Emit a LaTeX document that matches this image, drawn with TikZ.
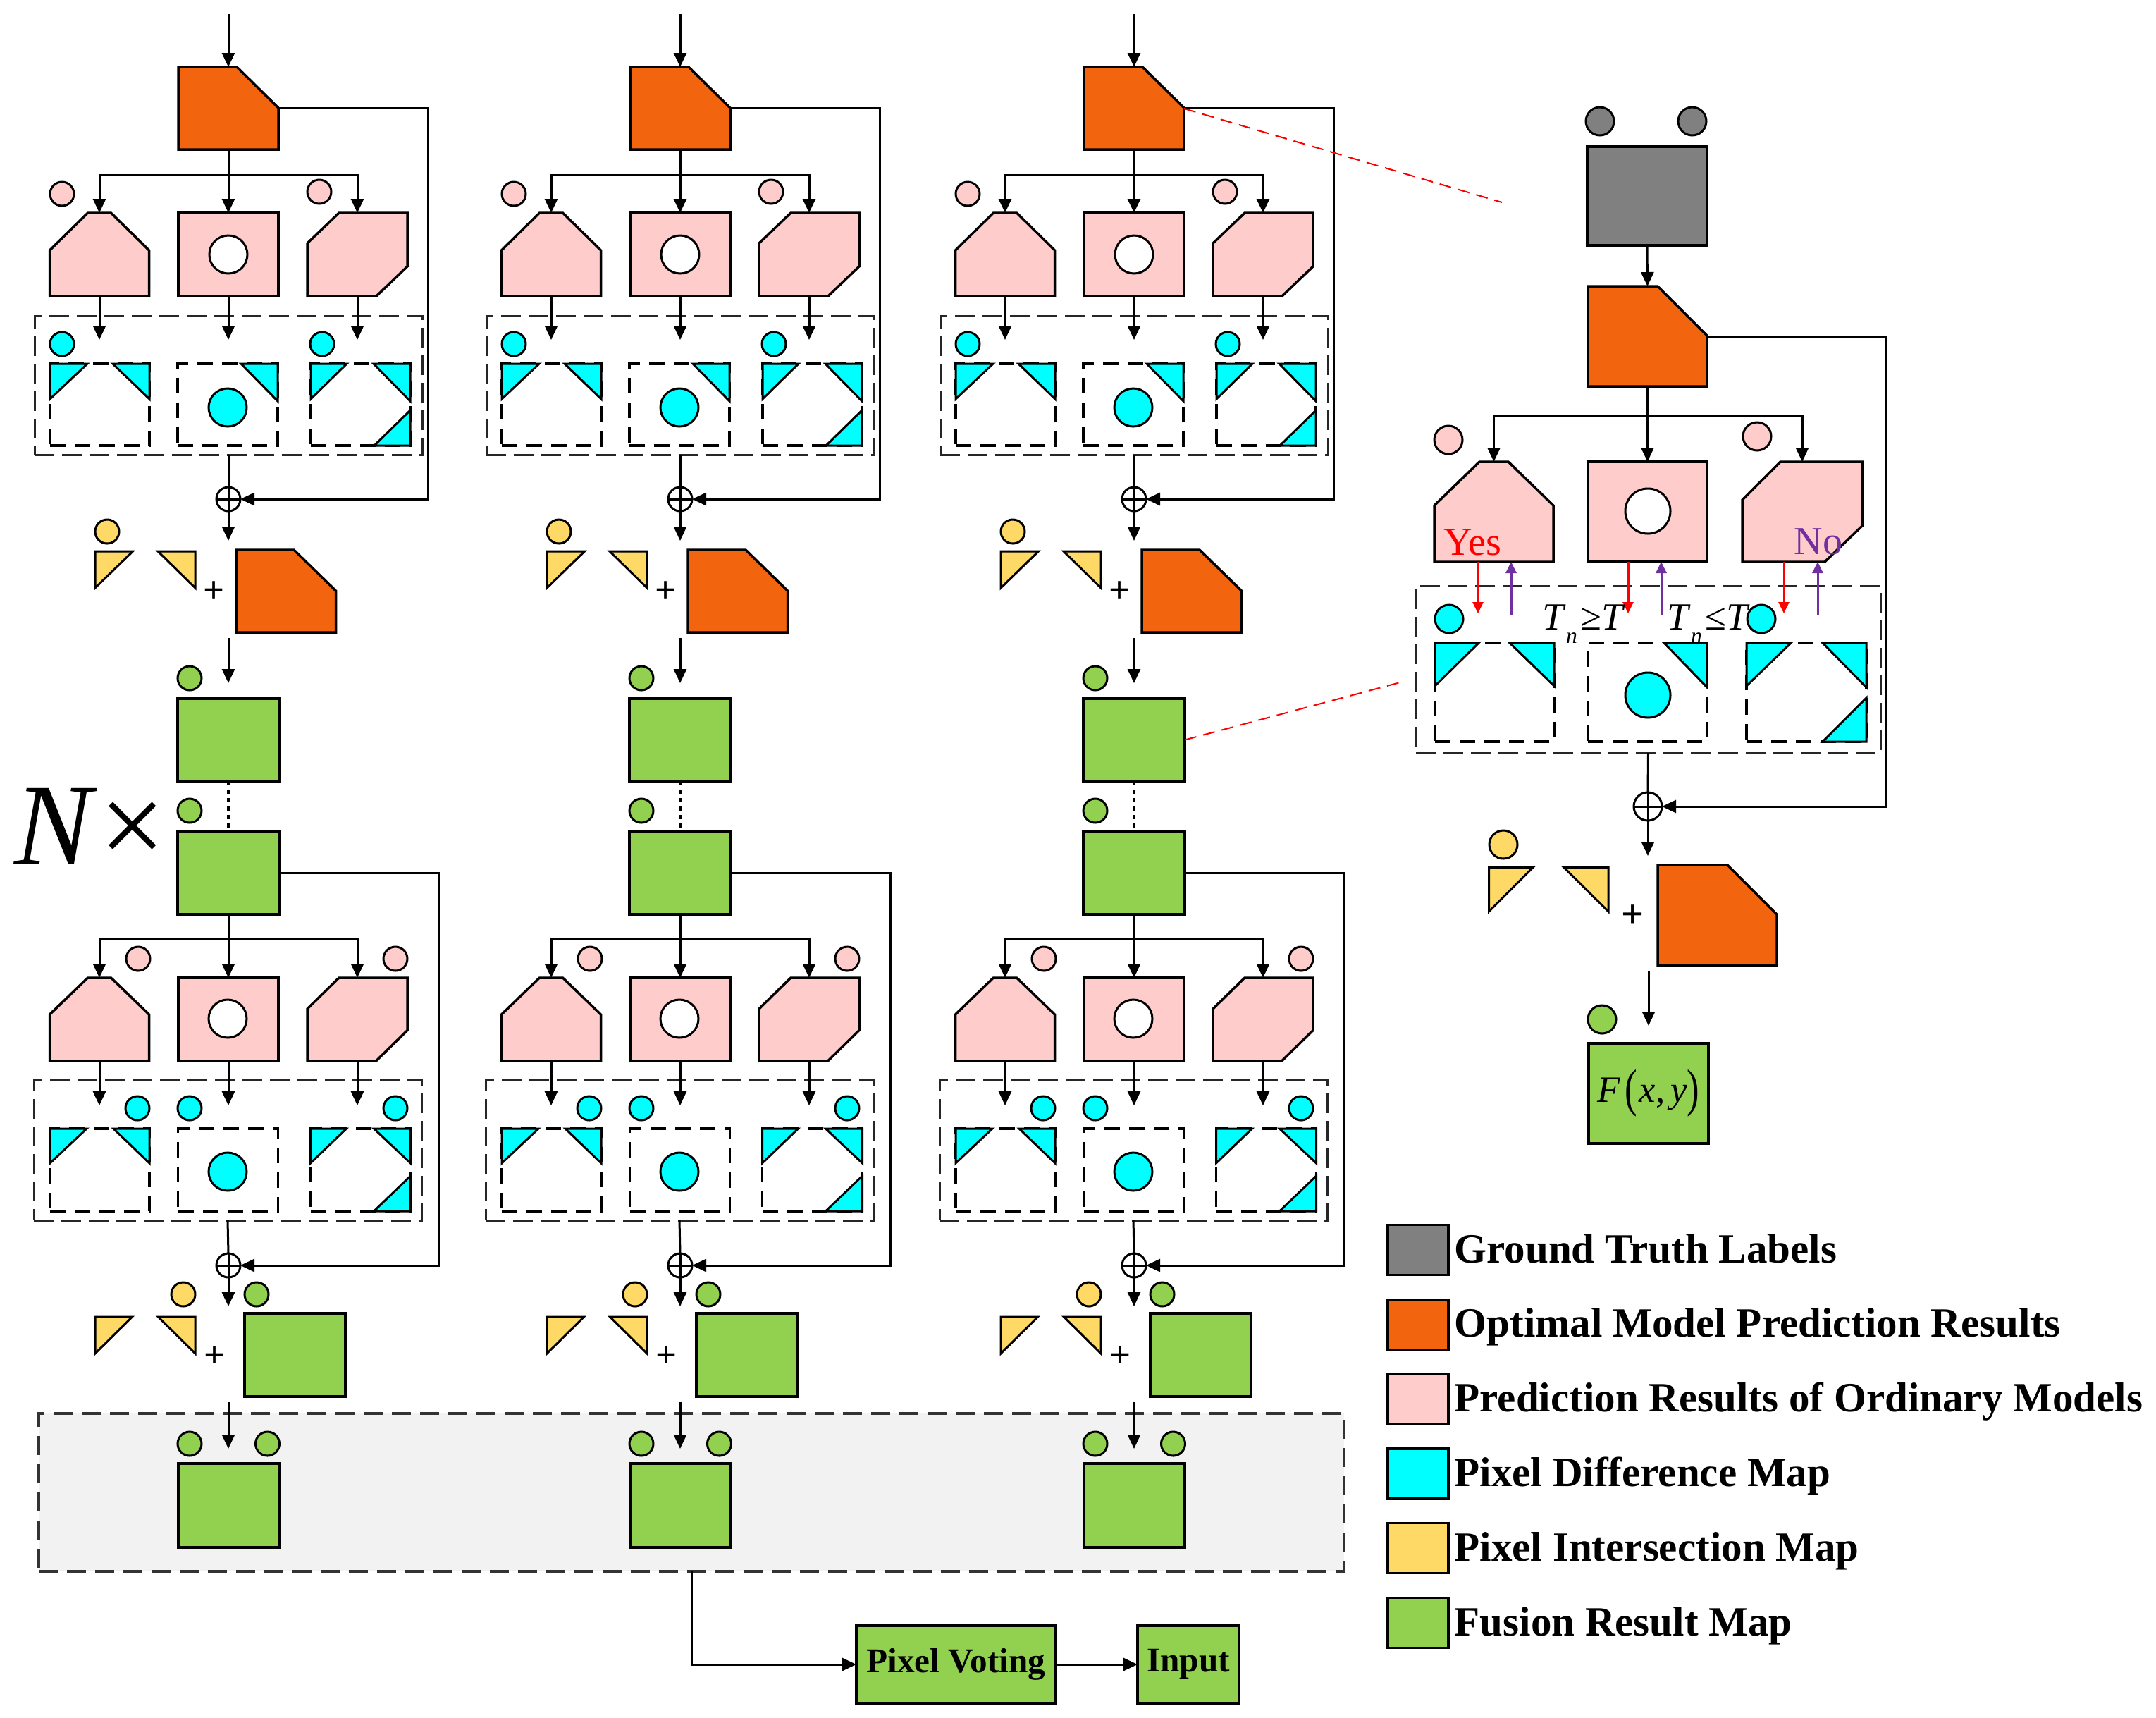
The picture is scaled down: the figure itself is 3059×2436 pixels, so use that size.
\documentclass[tikz,border=0pt]{standalone}
\usepackage{fontspec}
\setmainfont{Liberation Serif}
\usepackage{graphicx}
\usetikzlibrary{arrows.meta,calc}
\definecolor{orng}{RGB}{243,100,14}
\definecolor{pnk}{RGB}{255,204,204}
\definecolor{cyn}{RGB}{0,255,255}
\definecolor{ylw}{RGB}{255,217,102}
\definecolor{grn}{RGB}{146,208,80}
\definecolor{gtgray}{RGB}{128,128,128}
\definecolor{regfill}{RGB}{242,242,242}
\definecolor{purp}{RGB}{112,48,160}
\newcommand\chamNE[4]{\filldraw[shp,fill=#4] (#1.south west) -- (#1.north west) -- ([xshift=-#2]#1.north east) -- ([yshift=-#3]#1.north east) -- (#1.south east) -- cycle;}
\newcommand\chamTT[4]{\filldraw[shp,fill=#4] (#1.south west) -- ([yshift=-#3]#1.north west) -- ([xshift=#2]#1.north west) -- ([xshift=-#2]#1.north east) -- ([yshift=-#3]#1.north east) -- (#1.south east) -- cycle;}
\newcommand\chamTLBR[6]{\filldraw[shp,fill=#6] (#1.south west) -- ([yshift=-#3]#1.north west) -- ([xshift=#2]#1.north west) -- (#1.north east) -- ([yshift=#5]#1.south east) -- ([xshift=-#4]#1.south east) -- cycle;}
\newcommand\triTL[4]{\filldraw[tri,fill=#4] (#1.north west) -- ([xshift=#2]#1.north west) -- ([yshift=-#3]#1.north west) -- cycle;}
\newcommand\triTR[4]{\filldraw[tri,fill=#4] (#1.north east) -- ([xshift=-#2]#1.north east) -- ([yshift=-#3]#1.north east) -- cycle;}
\newcommand\triBR[4]{\filldraw[tri,fill=#4] (#1.south east) -- ([xshift=-#2]#1.south east) -- ([yshift=#3]#1.south east) -- cycle;}
\tikzset{
  shp/.style={draw=black, line width=0.35mm, line join=miter},
  tri/.style={draw=black, line width=0.3mm, line join=miter},
  ghost/.style={rectangle, inner sep=0pt, outer sep=0pt},
  box/.style={ghost, shp},
  wh/.style 2 args={minimum width=#1*0.1mm, minimum height=#2*0.1mm},
  dbox/.style={ghost, draw=black!85, line width=0.3mm, dash pattern=on 2.8mm off 1.1mm},
  ibox/.style={ghost, draw=black, line width=0.35mm, dash pattern=on 2.2mm off 1.3mm},
  dot/.style={circle, draw=black, line width=0.3mm, inner sep=0pt, outer sep=0pt, minimum size=3.4mm},
  bdot/.style={dot, minimum size=4mm},
  oplus/.style={circle, draw=black, line width=0.3mm, minimum size=3.4mm, inner sep=0pt, outer sep=0pt,
    path picture={\draw[line width=0.3mm] (path picture bounding box.north) -- (path picture bounding box.south)
      (path picture bounding box.west) -- (path picture bounding box.east);}},
  ln/.style={line width=0.3mm},
  arr/.style={ln, -{Triangle[length=2mm, width=1.8mm]}},
  redarr/.style={line width=0.3mm, draw=red, -{Triangle[length=1.6mm, width=1.5mm]}},
  purarr/.style={line width=0.3mm, draw=purp, -{Triangle[length=1.6mm, width=1.5mm]}},
  reddash/.style={draw=red, line width=0.2mm, dash pattern=on 1.7mm off 1mm},
  dotln/.style={line width=0.35mm, dash pattern=on 0.6mm off 0.6mm},
  plus/.style={inner sep=0pt, font=\fontsize{15}{15}\selectfont\bfseries},
  tfont/.style={anchor=base west, inner sep=0pt, font=\fontsize{15.5}{18}\selectfont},
}
\newcommand\subn{\raisebox{-0.35em}{\fontsize{9}{10}\selectfont\textit{n}}\hspace{0.08em}}
\begin{document}
\begin{tikzpicture}[x=0.1mm,y=-0.1mm]
\useasboundingbox (0,0) rectangle (3059,2436);
% grey voting region
\node[ghost, fill=regfill, draw=black!80, line width=0.4mm, dash pattern=on 2.7mm off 1.3mm, wh={1852}{224}] (reg) at (981,2117) {};
\foreach \i/\dx in {1/0,2/641,3/1285}{
\begin{scope}[shift={(\dx,0)}]
  \coordinate (in\i) at (324,20);
  \node[ghost, wh={142}{117}] (oa\i) at (324,153.5) {};
  \chamNE{oa\i}{5.9mm}{5.8mm}{orng}
  \draw[arr] (in\i) -- (oa\i.north);
  % ordinary models, first block
  \node[ghost, wh={141}{118}] (pl\i) at (141,361) {};
  \chamTT{pl\i}{5.4mm}{5.3mm}{pnk}
  \node[box, fill=pnk, wh={142}{118}] (pm\i) at (324,361) {};
  \node[dot, fill=white, minimum size=5.4mm] (wc\i) at (324,361) {};
  \node[ghost, wh={142}{118}] (pr\i) at (507,361) {};
  \chamTLBR{pr\i}{4.5mm}{4.3mm}{4.4mm}{4.2mm}{pnk}
  \node[dot, fill=pnk] (pda\i) at (88,275) {};
  \node[dot, fill=pnk] (pdb\i) at (453,272) {};
  \draw[arr] (oa\i.south) -- (pm\i.north);
  \draw[arr] (oa\i.south) -- ++(0,36) -| (pl\i.north);
  \draw[arr] (oa\i.south) -- ++(0,36) -| (pr\i.north);
  % difference maps
  \node[dbox, wh={550}{197}] (da\i) at (324,546.5) {};
  \draw[arr] (pl\i.south) -- ++(0,62);
  \draw[arr] (pm\i.south) -- ++(0,62);
  \draw[arr] (pr\i.south) -- ++(0,62);
  \node[dot, fill=cyn] (cda\i) at (88,488) {};
  \node[dot, fill=cyn] (cdb\i) at (457,488) {};
  \node[ibox, wh={141}{116}] (ia\i) at (141.5,574) {};
  \node[ibox, wh={142}{116}] (ib\i) at (323,574) {};
  \node[ibox, wh={141}{116}] (ic\i) at (511.5,574) {};
  \triTL{ia\i}{5.3mm}{5mm}{cyn}
  \triTR{ia\i}{5.2mm}{5mm}{cyn}
  \triTR{ib\i}{5.2mm}{5.3mm}{cyn}
  \node[dot, fill=cyn, minimum size=5.4mm] (cca\i) at (323,578) {};
  \triTL{ic\i}{5.1mm}{5mm}{cyn}
  \triTR{ic\i}{5.2mm}{5.3mm}{cyn}
  \triBR{ic\i}{5.1mm}{5mm}{cyn}
  % first fusion
  \node[oplus] (pa\i) at (324,708) {};
  \draw[ln] (da\i.south) -- (pa\i.north);
  \draw[arr] (oa\i.east) -- ++(212,0) |- (pa\i.east);
  \draw[arr] (pa\i.south) -- ++(0,42);
  \node[dot, fill=ylw] (yda\i) at (152,754) {};
  \filldraw[tri, fill=ylw] (135,782) -- (188.5,782) -- (135,834) -- cycle;
  \filldraw[tri, fill=ylw] (224,782) -- (277,782) -- (277,834) -- cycle;
  \node[plus] (plusa\i) at (304,840) {+};
  \node[ghost, wh={141.5}{117}] (ob\i) at (405.75,838.5) {};
  \chamNE{ob\i}{5.95mm}{5.8mm}{orng}
  \coordinate (sa\i) at (324,905);
  \coordinate (ea\i) at (324,969);
  \draw[arr] (sa\i) -- (ea\i);
  \node[dot, fill=grn] (gda\i) at (269,962) {};
  \node[box, fill=grn, wh={144}{117}] (ga\i) at (324,1049.5) {};
  \node[dot, fill=grn] (gdb\i) at (269,1150) {};
  \node[box, fill=grn, wh={144}{117}] (gb\i) at (324,1238.5) {};
  \draw[dotln] (ga\i.south) -- (gb\i.north);
  % ordinary models, second block
  \node[ghost, wh={141}{118}] (ql\i) at (141,1446) {};
  \chamTT{ql\i}{5.4mm}{5.2mm}{pnk}
  \node[box, fill=pnk, wh={142}{118}] (qm\i) at (324,1446) {};
  \node[dot, fill=white, minimum size=5.4mm] (wd\i) at (323,1445) {};
  \node[ghost, wh={142}{118}] (qr\i) at (507,1446) {};
  \chamTLBR{qr\i}{4.5mm}{4.4mm}{4.45mm}{4.35mm}{pnk}
  \node[dot, fill=pnk] (pdc\i) at (196,1360) {};
  \node[dot, fill=pnk] (pdd\i) at (561,1360) {};
  \draw[arr] (gb\i.south) -- (qm\i.north);
  \draw[arr] (gb\i.south) -- ++(0,35) -| (ql\i.north);
  \draw[arr] (gb\i.south) -- ++(0,35) -| (qr\i.north);
  \node[dbox, wh={550}{199}] (db\i) at (323,1631.5) {};
  \draw[arr] (ql\i.south) -- ++(0,63);
  \draw[arr] (qm\i.south) -- ++(0,63);
  \draw[arr] (qr\i.south) -- ++(0,63);
  \node[dot, fill=cyn] (cdc\i) at (195,1572) {};
  \node[dot, fill=cyn] (cdd\i) at (269,1572) {};
  \node[dot, fill=cyn] (cde\i) at (561,1572) {};
  \node[ibox, wh={141}{117}] (id\i) at (141.5,1659.5) {};
  \node[ibox, wh={142}{117}] (ie\i) at (323.5,1659.5) {};
  \node[ibox, wh={142}{117}] (if\i) at (511.5,1659.5) {};
  \triTL{id\i}{5.2mm}{4.9mm}{cyn}
  \triTR{id\i}{5.1mm}{4.9mm}{cyn}
  \node[dot, fill=cyn, minimum size=5.4mm] (ccb\i) at (323,1662) {};
  \triTL{if\i}{5.1mm}{4.9mm}{cyn}
  \triTR{if\i}{5.2mm}{4.9mm}{cyn}
  \triBR{if\i}{5.2mm}{5mm}{cyn}
  % second fusion
  \node[oplus] (pb\i) at (324,1795) {};
  \draw[ln] (db\i.south) -- (pb\i.north);
  \draw[arr] (gb\i.east) -- ++(226,0) |- (pb\i.east);
  \draw[arr] (pb\i.south) -- ++(0,41);
  \node[dot, fill=ylw] (ydb\i) at (260,1836) {};
  \node[dot, fill=grn] (gdc\i) at (364,1836) {};
  \filldraw[tri, fill=ylw] (135,1868) -- (187.5,1868) -- (135,1920) -- cycle;
  \filldraw[tri, fill=ylw] (224.5,1868) -- (277,1868) -- (277,1920) -- cycle;
  \node[plus] (plusb\i) at (305,1925) {+};
  \node[box, fill=grn, wh={143}{118}] (gc\i) at (418.5,1922) {};
  \coordinate (sb\i) at (324,1989);
  \coordinate (eb\i) at (324,2055);
  \draw[arr] (sb\i) -- (eb\i);
  \node[dot, fill=grn] (gdd\i) at (269,2048) {};
  \node[dot, fill=grn] (gde\i) at (379.5,2048) {};
  \node[box, fill=grn, wh={143}{119}] (gfin\i) at (324.5,2135.5) {};
\end{scope}
}
% N x
\node[anchor=base west, inner sep=0pt, font=\fontsize{47}{50}\selectfont] (nx) at (20,1226) {\textit{N}\hspace{0.02em}×};
% bottom
\node[box, fill=grn, wh={283}{110}, font=\fontsize{14}{16}\selectfont\bfseries] (pv) at (1356.5,2361) {Pixel Voting};
\node[box, fill=grn, wh={144}{110}, font=\fontsize{14}{16}\selectfont\bfseries] (inp) at (1686,2361) {Input};
\draw[arr] (reg.south) |- (pv.west);
\draw[arr] (pv.east) -- (inp.west);
% right panel
\node[bdot, fill=gtgray] (gta) at (2270,172) {};
\node[bdot, fill=gtgray] (gtb) at (2401,172) {};
\node[box, fill=gtgray, wh={170}{140}] (gt) at (2337,278) {};
\node[ghost, wh={169}{142}] (ra) at (2337.5,477) {};
\chamNE{ra}{7mm}{7mm}{orng}
\draw[arr] (gt.south) -- (ra.north);
\node[ghost, wh={169}{142}] (rpl) at (2119.5,726) {};
\chamTT{rpl}{6.4mm}{6.2mm}{pnk}
\node[box, fill=pnk, wh={169}{142}] (rpm) at (2337.5,726) {};
\node[dot, fill=white, minimum size=6.4mm] (rwc) at (2338,725) {};
\node[ghost, wh={170}{142}] (rpr) at (2557,726) {};
\chamTLBR{rpr}{5.4mm}{5.4mm}{5.3mm}{5.1mm}{pnk}
\node[bdot, fill=pnk] (rpda) at (2055,624) {};
\node[bdot, fill=pnk] (rpdb) at (2493,619) {};
\draw[arr] (ra.south) -- (rpm.north);
\draw[arr] (ra.south) -- ++(0,41) -| (rpl.north);
\draw[arr] (ra.south) -- ++(0,41) -| (rpr.north);
\node[anchor=base west, inner sep=0pt, text=red, font=\fontsize{16}{18}\selectfont] (yes) at (2048,787) {Yes};
\node[anchor=base west, inner sep=0pt, text=purp, font=\fontsize{16}{18}\selectfont] (no) at (2545,786) {No};
\node[dbox, wh={659}{237}] (rd) at (2338.5,949.5) {};
\draw[redarr] ([xshift=-2.25mm]rpl.south) -- ++(0,73);
\draw[purarr] ([xshift=2.45mm,yshift=-7.6mm]rpl.south) -- ([xshift=2.45mm]rpl.south);
\draw[redarr] ([xshift=-2.75mm]rpm.south) -- ++(0,73);
\draw[purarr] ([xshift=1.95mm,yshift=-7.6mm]rpm.south) -- ([xshift=1.95mm]rpm.south);
\draw[redarr] ([xshift=-2.6mm]rpr.south) -- ++(0,73);
\draw[purarr] ([xshift=2.2mm,yshift=-7.6mm]rpr.south) -- ([xshift=2.2mm]rpr.south);
\node[bdot, fill=cyn] (rcda) at (2056,878) {};
\node[bdot, fill=cyn] (rcdb) at (2499,878) {};
\node[tfont] (tge) at (2188,893) {\textit{T}\subn≥\textit{T}};
\node[tfont] (tle) at (2365,893) {\textit{T}\subn≤\textit{T}};
\node[ibox, wh={169}{140}] (ria) at (2120.5,982) {};
\node[ibox, wh={169}{140}] (rib) at (2337.5,982) {};
\node[ibox, wh={170}{140}] (ric) at (2563,982) {};
\triTL{ria}{6.2mm}{6.1mm}{cyn}
\triTR{ria}{6.3mm}{6.1mm}{cyn}
\triTR{rib}{6.1mm}{6.3mm}{cyn}
\node[dot, fill=cyn, minimum size=6.4mm] (rcc) at (2338,986) {};
\triTL{ric}{6.3mm}{6.1mm}{cyn}
\triTR{ric}{6.2mm}{6.3mm}{cyn}
\triBR{ric}{6.2mm}{6.2mm}{cyn}
\node[oplus, minimum size=4mm] (rp) at (2338,1144) {};
\draw[ln] (rd.south) -- (rp.north);
\draw[arr] (ra.east) -- ++(254,0) |- (rp.east);
\draw[arr] (rp.south) -- ++(0,50);
\node[bdot, fill=ylw] (ryd) at (2133,1198) {};
\filldraw[tri, fill=ylw] (2112.5,1230.5) -- (2175,1230.5) -- (2112.5,1293) -- cycle;
\filldraw[tri, fill=ylw] (2219,1230.5) -- (2282,1230.5) -- (2282,1293) -- cycle;
\node[plus, font=\fontsize{16}{16}\selectfont\bfseries] (rplus) at (2316,1300) {+};
\node[ghost, wh={169}{142}] (rb) at (2436.5,1298) {};
\chamNE{rb}{7mm}{7mm}{orng}
\coordinate (rsa) at (2339,1377);
\coordinate (rea) at (2339,1455);
\draw[arr] (rsa) -- (rea);
\node[bdot, fill=grn] (rgd) at (2273,1446) {};
\node[box, fill=grn, wh={170}{142}, font=\fontsize{15}{18}\selectfont] (rf) at (2339,1551)
  {\textit{F}\hspace{0.12em}\raisebox{-0.1em}{\scalebox{1}[1.4]{(}}\hspace{0.05em}\textit{x},\hspace{0.15em}\textit{y}\raisebox{-0.1em}{\scalebox{1}[1.4]{)}}};
% zoom lines
\coordinate (rla) at (2131,287);
\coordinate (rlb) at (1994,966);
\draw[reddash] ([yshift=-5.9mm]oa3.north east) -- (rla);
\draw[reddash] (ga3.east) -- (rlb);
% legend
\foreach \k/\col/\txt in {0/gtgray/Ground Truth Labels, 1/orng/Optimal Model Prediction Results, 2/pnk/Prediction Results of Ordinary Models, 3/cyn/Pixel Difference Map, 4/ylw/Pixel Intersection Map, 5/grn/Fusion Result Map}{
  \node[box, fill=\col, wh={86}{71}] (lg\k) at (2012,1773+\k*105.8) {};
  \node[anchor=base west, inner sep=0pt, font=\fontsize{16.8}{19}\selectfont\bfseries] (lt\k) at ($(lg\k.east)+(8,18)$) {\txt};
}
\end{tikzpicture}
\end{document}
